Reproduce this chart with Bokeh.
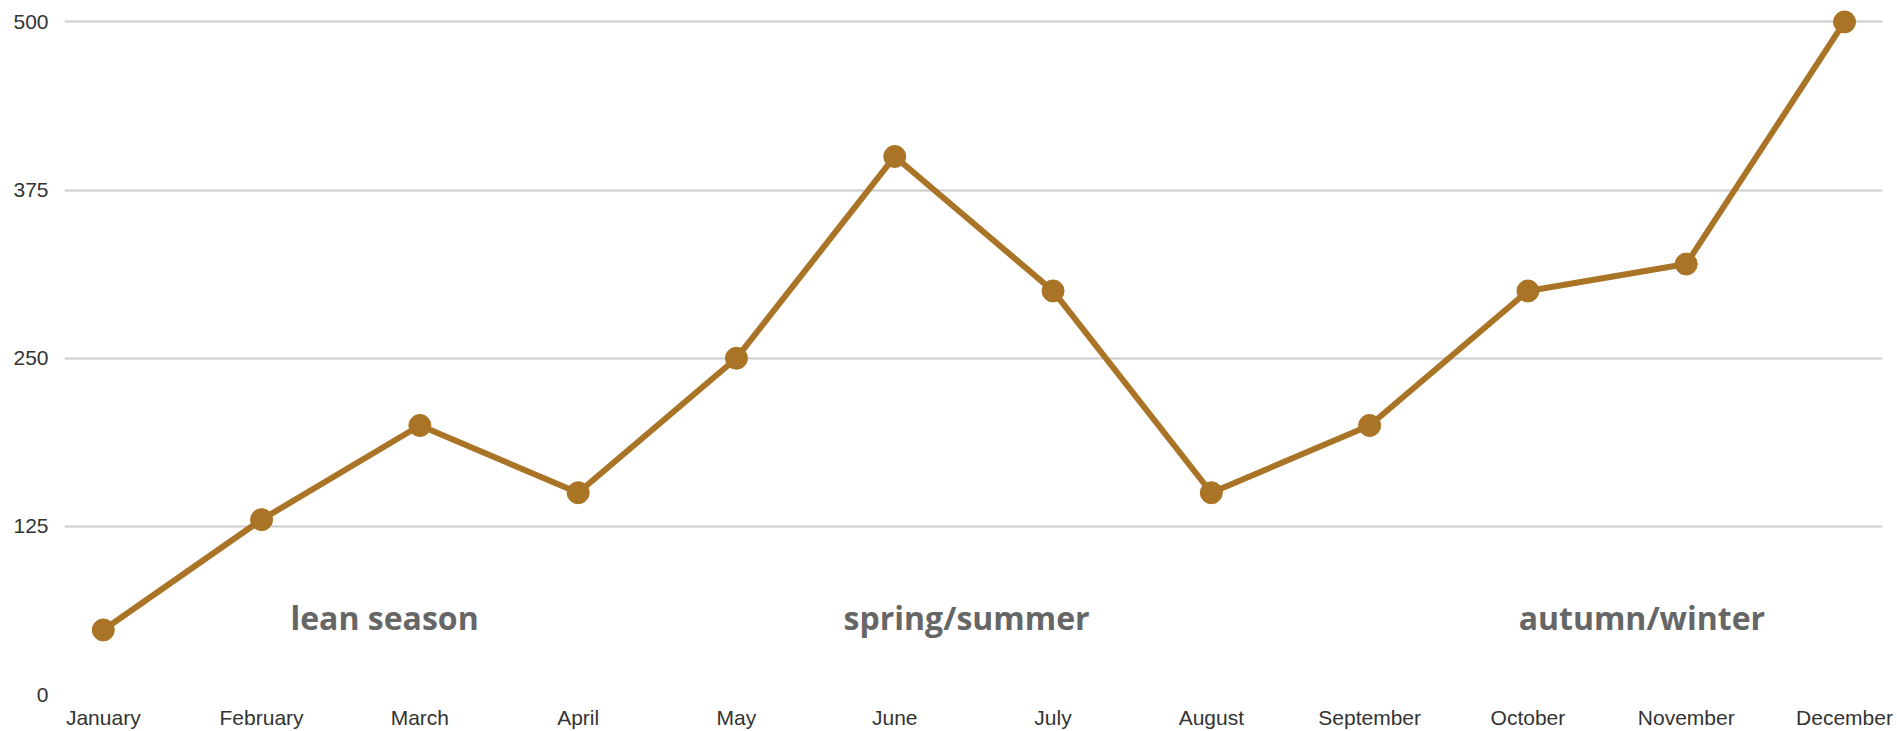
from bokeh.plotting import figure
from bokeh.models import FixedTicker, Range1d, ColumnDataSource
from bokeh.core.properties import value
from bokeh.embed import file_html
from bokeh.resources import INLINE

months = ["January", "February", "March", "April", "May", "June", "July",
          "August", "September", "October", "November", "December"]
values = [48, 130, 200, 150, 250, 400, 300, 150, 200, 300, 320, 500]
y_ticks = [0, 125, 250, 375, 500]

season_labels = ["lean season", "spring/summer", "autumn/winter"]
season_x = [1.777, 5.454, 9.72]
season_y = [57, 57, 57]

LINE = "#A97426"

xs = list(range(len(months)))
src = ColumnDataSource(dict(x=xs, y=values))

p = figure(width=1897, height=731, output_backend="svg", toolbar_location=None,
           x_range=Range1d(-0.245, len(months) - 1 + 0.24),
           y_range=Range1d(0, 510),
           min_border_left=64, min_border_right=15, min_border_top=8,
           min_border_bottom=34)
p.outline_line_color = None
p.background_fill_color = "white"
p.border_fill_color = "white"

p.line("x", "y", source=src, line_color=LINE, line_width=6)
p.scatter("x", "y", source=src, size=22, fill_color=LINE, line_color=LINE)

p.text(x=season_x, y=season_y, text=season_labels,
       text_font=value("Open Sans"), text_font_style="bold",
       text_font_size="32px", text_color="#666666",
       text_align="center", text_baseline="alphabetic")

p.xgrid.visible = False
p.ygrid.ticker = FixedTicker(ticks=y_ticks)
p.ygrid.grid_line_color = "#cccccc"
p.ygrid.grid_line_width = 2

p.yaxis.ticker = FixedTicker(ticks=y_ticks)
p.xaxis.ticker = FixedTicker(ticks=xs)
p.xaxis.major_label_overrides = {i: m for i, m in enumerate(months)}

for ax in (p.xaxis[0], p.yaxis[0]):
    ax.axis_line_color = None
    ax.major_tick_line_color = None
    ax.minor_tick_line_color = None
    ax.major_tick_out = 0
    ax.major_tick_in = 0
    ax.major_label_text_font = "Liberation Sans"
    ax.major_label_text_font_size = "21px"
    ax.major_label_text_color = "#333333"
p.yaxis.major_label_standoff = 16
p.xaxis.major_label_standoff = 11

open("out.html", "w").write(file_html(p, INLINE))
